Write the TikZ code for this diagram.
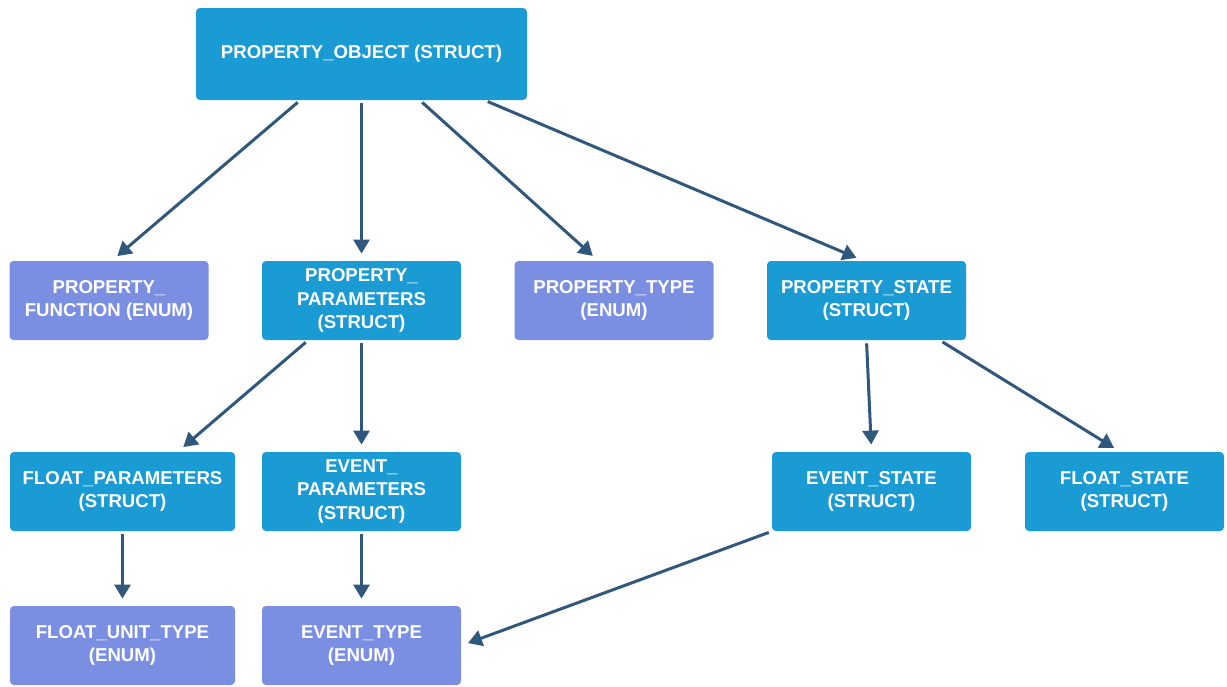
\documentclass[tikz,border=0pt]{standalone}
\usepackage{fontspec}
\setmainfont{Liberation Sans}
\usepackage{tikz}
\usetikzlibrary{arrows.meta,calc}

\definecolor{structblue}{RGB}{26,155,212}
\definecolor{enumblue}{RGB}{123,143,226}
\definecolor{linkblue}{RGB}{47,88,124}

\begin{document}
\begin{tikzpicture}[x=0.5pt,y=-0.5pt,
    box/.style={rounded corners=2pt,inner sep=0pt,text=white,align=center,
      font=\fontsize{9.3}{11.9}\selectfont\bfseries,
      minimum width=99.5pt,minimum height=39.5pt},
    structbox/.style={box,fill=structblue},
    enumbox/.style={box,fill=enumblue},
    link/.style={draw=linkblue,line width=1.5pt,
      -{Triangle[length=7pt,width=8pt]},shorten <=1.5pt,shorten >=3.5pt}]
  \useasboundingbox (0,0) rectangle (1227,686);

  \node[structbox,minimum width=165.5pt,minimum height=46pt] (obj) at (361.5,54) {PROPERTY\_OBJECT (STRUCT)};

  \node[enumbox] (func) at (109,300.5) {PROPERTY\_\\FUNCTION (ENUM)};
  \node[structbox] (params) at (361.5,300.5) {PROPERTY\_\\PARAMETERS\\(STRUCT)};
  \node[enumbox] (ptype) at (614,300.5) {PROPERTY\_TYPE\\(ENUM)};
  \node[structbox] (pstate) at (866.5,300.5) {PROPERTY\_STATE\\(STRUCT)};

  \node[structbox,minimum width=112.5pt] (floatparams) at (122.5,491.5) {FLOAT\_PARAMETERS\\(STRUCT)};
  \node[structbox] (eventparams) at (361.5,491.5) {EVENT\_\\PARAMETERS\\(STRUCT)};
  \node[structbox] (eventstate) at (871.5,491.5) {EVENT\_STATE\\(STRUCT)};
  \node[structbox] (floatstate) at (1124.5,491.5) {FLOAT\_STATE\\(STRUCT)};

  \node[enumbox,minimum width=112.5pt] (floatunit) at (122.5,645.5) {FLOAT\_UNIT\_TYPE\\(ENUM)};
  \node[enumbox] (eventtype) at (361.5,645.5) {EVENT\_TYPE\\(ENUM)};

  \draw[link] ($(obj.south)+(-61.5,0)$) -- ($(func.north)+(3,0)$);
  \draw[link] (obj.south) -- (params.north);
  \draw[link] ($(obj.south)+(58.5,0)$) -- ($(ptype.north)+(-16,0)$);
  \draw[link] ($(obj.south)+(123.5,0)$) -- ($(pstate.north)+(-3.5,0)$);

  \draw[link] ($(params.south)+(-53.5,0)$) -- ($(floatparams.north)+(55.5,0)$);
  \draw[link] (params.south) -- (eventparams.north);
  \draw[link] (pstate.south) -- (eventstate.north);
  \draw[link] ($(pstate.south)+(73.5,0)$) -- ($(floatstate.north)+(-4.5,0)$);

  \draw[link] (floatparams.south) -- (floatunit.north);
  \draw[link] (eventparams.south) -- (eventtype.north);
  \draw[link] (eventstate.south west) -- (eventtype.east);
\end{tikzpicture}
\end{document}
